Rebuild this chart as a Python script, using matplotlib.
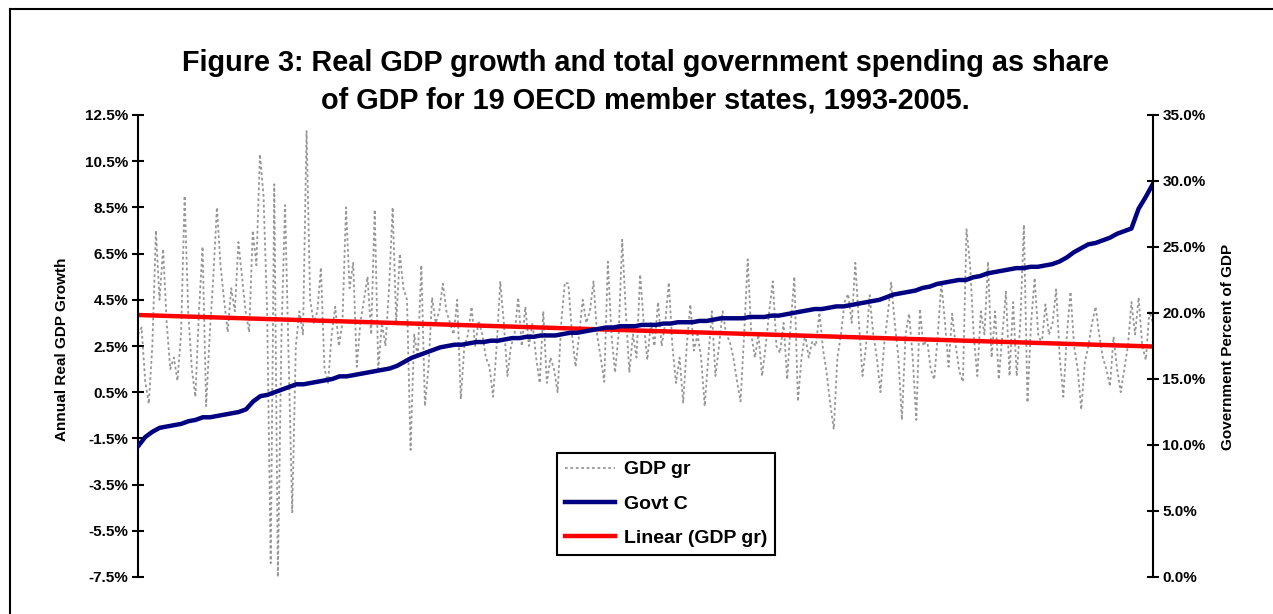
import matplotlib
matplotlib.use('Agg')
import matplotlib.pyplot as plt
import numpy as np
from matplotlib.lines import Line2D
from matplotlib.ticker import FuncFormatter

plt.rcParams['font.family'] = ['Liberation Sans', 'DejaVu Sans']

# annual real GDP growth, % (left to right)
gdp_growth = [
    3.0, 3.3, 1.0, 0.0, 2.5, 7.5, 4.5, 6.7, 3.5, 1.5,
    2.0, 1.0, 3.0, 9.0, 4.0, 1.5, 0.3, 4.0, 6.8, -0.1,
    3.0, 5.5, 8.5, 6.0, 4.5, 3.1, 5.0, 4.0, 7.0, 5.5,
    4.0, 3.1, 7.5, 6.0, 10.8, 9.0, 4.0, -6.9, 9.5, -7.5,
    3.0, 8.6, 2.0, -4.7, 2.5, 4.0, 3.0, 11.8, 4.5, 3.5,
    4.0, 5.9, 1.5, 0.9, 3.0, 4.2, 2.5, 3.5, 8.5, 5.0,
    6.1, 1.6, 3.5, 4.5, 5.5, 3.0, 8.4, 1.5, 3.5, 2.5,
    5.0, 8.5, 3.5, 6.5, 5.0, 4.5, -2.0, 3.0, 2.0, 6.0,
    -0.1, 1.6, 4.6, 3.5, 4.0, 5.2, 4.0, 3.5, 3.0, 4.5,
    0.2, 2.5, 3.0, 4.2, 2.5, 3.6, 3.0, 2.0, 1.6, 0.3,
    2.5, 5.3, 3.5, 1.2, 2.5, 3.0, 4.6, 2.5, 4.2, 2.5,
    3.5, 2.0, 0.9, 4.0, 0.9, 2.0, 1.5, 0.5, 3.5, 5.25,
    5.2, 3.0, 1.6, 3.0, 4.5, 3.5, 4.0, 5.3, 3.0, 2.0,
    0.95, 6.15, 3.0, 1.35, 3.0, 7.1, 4.0, 1.35, 3.0, 2.0,
    5.6, 3.5, 1.9, 3.5, 2.5, 4.4, 2.5, 3.5, 5.25, 2.5,
    0.9, 2.0, 0.05, 2.5, 4.3, 2.3, 3.0, 2.0, -0.1, 2.0,
    4.0, 1.2, 2.5, 4.0, 3.0, 2.7, 2.0, 1.0, 0.1, 3.0,
    6.25, 3.0, 2.0, 3.0, 1.2, 2.5, 4.0, 5.3, 2.5, 2.2,
    3.5, 1.05, 3.5, 5.5, 0.1, 2.0, 3.0, 2.0, 2.7, 2.5,
    3.95, 2.35, 1.35, 0.0, -1.1, 2.0, 3.0, 4.4, 4.75, 3.5,
    6.1, 3.5, 1.2, 2.5, 4.7, 3.0, 2.0, 0.5, 2.5, 3.8,
    5.25, 3.5, 2.0, -0.7, 3.0, 3.9, 2.0, -0.7, 4.1, 2.5,
    2.8, 1.5, 1.05, 3.0, 5.25, 3.5, 1.6, 3.9, 2.5, 1.4,
    0.95, 7.55, 6.0, 3.0, 1.2, 4.0, 3.0, 6.15, 2.0, 4.0,
    1.05, 3.0, 4.85, 1.2, 4.4, 1.2, 3.5, 7.75, 0.05, 3.5,
    5.45, 3.0, 2.6, 4.3, 3.0, 3.5, 4.95, 2.0, 0.3, 3.0,
    4.85, 2.5, 1.5, -0.25, 1.8, 2.5, 3.5, 4.2, 3.0, 2.0,
    1.5, 0.75, 2.9, 1.5, 0.5, 1.5, 2.5, 4.4, 3.0, 4.6,
    2.5, 1.9, 4.0, 3.5,
]

# total government spending, % of GDP, sorted ascending (right axis)
govt_share = [
    9.9, 10.6, 11.0, 11.3, 11.4, 11.5, 11.6, 11.8, 11.9, 12.1,
    12.1, 12.2, 12.3, 12.4, 12.5, 12.7, 13.3, 13.7, 13.8, 14.0,
    14.2, 14.4, 14.6, 14.6, 14.7, 14.8, 14.9, 15.0, 15.2, 15.2,
    15.3, 15.4, 15.5, 15.6, 15.7, 15.8, 16.0, 16.3, 16.6, 16.8,
    17.0, 17.2, 17.4, 17.5, 17.6, 17.6, 17.7, 17.8, 17.8, 17.9,
    17.9, 18.0, 18.1, 18.1, 18.2, 18.2, 18.3, 18.3, 18.3, 18.4,
    18.5, 18.5, 18.6, 18.7, 18.8, 18.9, 18.9, 19.0, 19.0, 19.0,
    19.1, 19.1, 19.1, 19.2, 19.2, 19.3, 19.3, 19.3, 19.4, 19.4,
    19.5, 19.6, 19.6, 19.6, 19.6, 19.7, 19.7, 19.7, 19.8, 19.8,
    19.9, 20.0, 20.1, 20.2, 20.3, 20.3, 20.4, 20.5, 20.5, 20.6,
    20.7, 20.8, 20.9, 21.0, 21.2, 21.4, 21.5, 21.6, 21.7, 21.9,
    22.0, 22.2, 22.3, 22.4, 22.5, 22.5, 22.7, 22.8, 23.0, 23.1,
    23.2, 23.3, 23.4, 23.4, 23.5, 23.5, 23.6, 23.7, 23.9, 24.2,
    24.6, 24.9, 25.2, 25.3, 25.5, 25.7, 26.0, 26.2, 26.4, 27.9,
    28.8, 29.8,
]

left_ticks = [-7.5, -5.5, -3.5, -1.5, 0.5, 2.5, 4.5, 6.5, 8.5, 10.5, 12.5]
right_ticks = [0, 5, 10, 15, 20, 25, 30, 35]

title = ('Figure 3: Real GDP growth and total government spending as share\n'
         'of GDP for 19 OECD member states, 1993-2005.')

W, H = 1273, 614
fig = plt.figure(figsize=(W / 100, H / 100), dpi=100)
ax = fig.add_axes([138 / W, 1 - 577 / H, (1153 - 138) / W, (577 - 115) / H])

x = np.arange(len(gdp_growth))
ax.plot(x, gdp_growth, color='#969696', lw=1.3, ls=(0, (1.5, 1.5)), label='GDP gr')

# Excel-style linear trendline
coef = np.polyfit(x, gdp_growth, 1)
ends = x[[0, -1]]
ax.plot(ends, np.polyval(coef, ends), color='#ff0000', lw=3.2, label='Linear (GDP gr)',
        solid_capstyle='butt')

ax2 = ax.twinx()
xg = np.linspace(0, len(gdp_growth) - 1, len(govt_share))
ax2.plot(xg, govt_share, color='#000080', lw=3.2, label='Govt C')

ax.set_xlim(0, len(gdp_growth) - 1)
ax.set_ylim(-7.5, 12.5)
ax2.set_ylim(0, 35)
ax.set_yticks(left_ticks)
ax2.set_yticks(right_ticks)
ax.yaxis.set_major_formatter(FuncFormatter(lambda v, p: f'{v:.1f}%'))
ax2.yaxis.set_major_formatter(FuncFormatter(lambda v, p: f'{v:.1f}%'))
ax.set_xticks([])

for a in (ax, ax2):
    a.spines['top'].set_visible(False)
    a.spines['bottom'].set_visible(False)
    a.tick_params(axis='y', direction='inout', length=8.6, width=1.5, pad=2.5,
                  labelsize=11)
    for lbl in a.get_yticklabels():
        lbl.set_fontweight('bold')
ax.spines['left'].set_linewidth(1.5)
ax.spines['right'].set_visible(False)
ax2.spines['left'].set_visible(False)
ax2.spines['right'].set_linewidth(1.5)

fig.text(645 / W, 1 - 82 / H, title, ha='center', va='center', fontsize=20.8,
         fontweight='bold', linespacing=1.42)
fig.text(62 / W, 1 - 349 / H, 'Annual Real GDP Growth', rotation=90,
         ha='center', va='center', fontsize=11, fontweight='bold')
fig.text(1228 / W, 1 - 347 / H, 'Government Percent of GDP', rotation=90,
         ha='center', va='center', fontsize=11, fontweight='bold')

handles = [
    Line2D([], [], color='#969696', lw=1.3, ls=(0, (1.5, 1.5))),
    Line2D([], [], color='#000080', lw=3.2),
    Line2D([], [], color='#ff0000', lw=3.2),
]
leg = fig.legend(handles, ['GDP gr', 'Govt C', 'Linear (GDP gr)'],
                 loc='upper left', bbox_to_anchor=(557 / W, 1 - 453 / H),
                 borderaxespad=0, fancybox=False, edgecolor='black',
                 framealpha=1, handlelength=2.6, handletextpad=0.45,
                 labelspacing=0.86, borderpad=0.4,
                 prop={'weight': 'bold', 'size': 14})
leg.get_frame().set_linewidth(1.5)

# chart-area border (left and top edges visible in the crop)
fig.add_artist(Line2D([10 / W, 10 / W], [0, 1 - 9 / H], transform=fig.transFigure,
                      color='black', lw=1.5))
fig.add_artist(Line2D([10 / W, 1], [1 - 9 / H, 1 - 9 / H], transform=fig.transFigure,
                      color='black', lw=1.5))

fig.savefig('out.png', dpi=100)
